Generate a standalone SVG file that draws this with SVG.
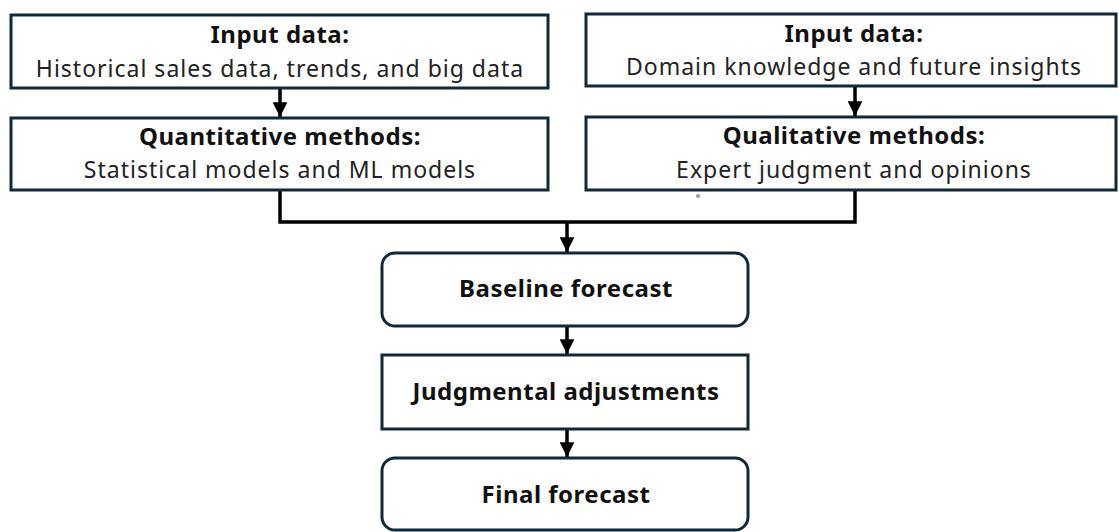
<svg xmlns="http://www.w3.org/2000/svg" width="1119" height="532" viewBox="0 0 1119 532">
  <style>
    .box { fill: #ffffff; stroke: #10293a; stroke-width: 3; }
    .title { font-family: "Noto Sans", "Open Sans", sans-serif; font-size: 24px; font-weight: bold; letter-spacing: 0.5px; fill: #111111; text-anchor: middle; }
    .body { font-family: "Noto Sans", "Open Sans", sans-serif; font-size: 23px; letter-spacing: 1px; fill: #222222; text-anchor: middle; }
    .link { fill: none; stroke: #000000; stroke-width: 3.5; }
  </style>
  <defs>
    <marker id="head" viewBox="0 0 10 10" refX="10" refY="5" markerWidth="4.2" markerHeight="4.2" markerUnits="strokeWidth" orient="auto">
      <path d="M0,0 L10,5 L0,10 Z" fill="#000000"/>
    </marker>
  </defs>
  <rect width="1119" height="532" fill="#ffffff"/>

  <g id="connectors">
    <line class="link" x1="280" y1="89" x2="280" y2="117" marker-end="url(#head)"/>
    <line class="link" x1="855" y1="86" x2="855" y2="116" marker-end="url(#head)"/>
    <polyline class="link" points="280,191 280,222 855,222 855,190"/>
    <line class="link" x1="567" y1="222" x2="567" y2="252" marker-end="url(#head)"/>
    <line class="link" x1="567" y1="326" x2="567" y2="354" marker-end="url(#head)"/>
    <line class="link" x1="567" y1="429" x2="567" y2="457" marker-end="url(#head)"/>
  </g>

  <g id="input-quant">
    <rect class="box" x="11" y="15" width="537" height="73"/>
    <text class="title" x="280" y="43">Input data:</text>
    <text class="body" x="280" y="77">Historical sales data, trends, and big data</text>
  </g>

  <g id="quantitative">
    <rect class="box" x="11" y="118" width="537" height="72"/>
    <text class="title" x="280" y="145">Quantitative methods:</text>
    <text class="body" x="280" y="178">Statistical models and ML models</text>
  </g>

  <g id="input-qual">
    <rect class="box" x="586" y="14" width="530" height="72"/>
    <text class="title" x="854" y="42">Input data:</text>
    <text class="body" x="854" y="75">Domain knowledge and future insights</text>
  </g>

  <g id="qualitative">
    <rect class="box" x="586" y="117" width="530" height="73"/>
    <text class="title" x="854" y="144">Qualitative methods:</text>
    <text class="body" x="854" y="178">Expert judgment and opinions</text>
  </g>

  <circle cx="698" cy="196" r="2" fill="#9a9a9a"/>

  <g id="baseline">
    <rect class="box" x="382" y="253" width="366" height="73" rx="13"/>
    <text class="title" x="566" y="297">Baseline forecast</text>
  </g>

  <g id="adjustments">
    <rect class="box" x="382" y="355" width="366" height="74"/>
    <text class="title" x="566" y="400">Judgmental adjustments</text>
  </g>

  <g id="final">
    <rect class="box" x="382" y="458" width="366" height="72" rx="13"/>
    <text class="title" x="566" y="503">Final forecast</text>
  </g>
</svg>
